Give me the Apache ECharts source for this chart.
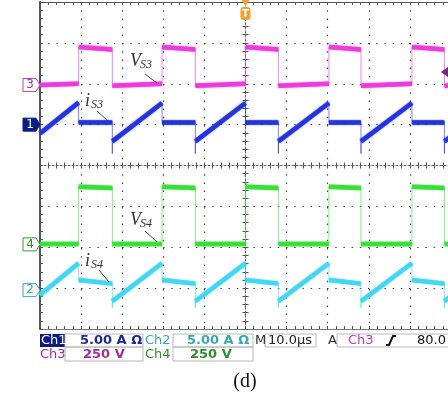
<!DOCTYPE html>
<html>
<head>
    <meta http-equiv="Content-Type" content="text/html; charset=utf-8">
    <title>VS3 iS3 VS4 iS4</title>
    <style>
        html, body { margin: 0; padding: 0; background: #fff; }
        #main { width: 448px; height: 401px; }
    </style>
</head>
<body>
    <div id="main"></div>
    <script src="https://cdn.jsdelivr.net/npm/echarts@6/dist/echarts.min.js"></script>
    <script>
        // time in µs (trigger at 0), level in screen divisions (+-4 div)
        var vs3 = [[-50, 1.97], [-40.6, 2.0], [-40.6, 2.9], [-32.4, 2.84], [-32.4, 1.95], [-20.3, 2.0], [-20.3, 2.9], [-12.2, 2.84], [-12.2, 1.95],
            [0, 2.0], [0, 2.9], [8.0, 2.84], [8.0, 1.95], [20.3, 2.0], [20.3, 2.9], [28.1, 2.84], [28.1, 1.95], [40.5, 2.0], [40.5, 2.9], [48.4, 2.84], [48.4, 1.95], [50, 1.96]];
        var is3 = [[-50, 0.78], [-40.6, 1.54], [-40.6, 1.05], [-32.4, 1.05], [-32.4, 0.29], [-32.4, 0.59], [-20.3, 1.53], [-20.3, 1.05], [-12.2, 1.05], [-12.2, 0.29], [-12.2, 0.59],
            [0, 1.53], [0, 1.05], [8.0, 1.05], [8.0, 0.29], [8.0, 0.59], [20.3, 1.53], [20.3, 1.05], [28.1, 1.05], [28.1, 0.29], [28.1, 0.59], [40.5, 1.53], [40.5, 1.05], [48.4, 1.05], [48.4, 0.29], [48.4, 0.59], [50, 0.71]];
        var vs4 = [[-50, -1.92], [-40.6, -1.92], [-40.6, -0.52], [-32.4, -0.55], [-32.4, -1.92], [-20.3, -1.92], [-20.3, -0.52], [-12.2, -0.55], [-12.2, -1.92],
            [0, -1.92], [0, -0.52], [8.0, -0.55], [8.0, -1.92], [20.3, -1.92], [20.3, -0.52], [28.1, -0.55], [28.1, -1.92], [40.5, -1.92], [40.5, -0.52], [48.4, -0.55], [48.4, -1.92], [50, -1.92]];
        var is4 = [[-50, -3.17], [-40.6, -2.39], [-40.6, -2.80], [-32.4, -2.89], [-32.4, -3.48], [-32.4, -3.32], [-20.3, -2.39], [-20.3, -2.80], [-12.2, -2.89], [-12.2, -3.48], [-12.2, -3.32],
            [0, -2.39], [0, -2.80], [8.0, -2.89], [8.0, -3.48], [8.0, -3.32], [20.3, -2.39], [20.3, -2.80], [28.1, -2.89], [28.1, -3.48], [28.1, -3.32], [40.5, -2.39], [40.5, -2.80], [48.4, -2.89], [48.4, -3.48], [48.4, -3.32], [50, -3.19]];

        // channel ground markers (div) and trigger level (div)
        var chNames = ['1', '2', '3', '4'];
        var chOffsets = [1.0, -3.05, 1.97, -1.93];
        var trigLevel = 2.29;

        // readout texts
        var chScale = ['5.00 A \u03a9', '5.00 A \u03a9', '250 V', '250 V'];
        var timeBase = '10.0\u00b5s';
        var trigSource = 'Ch3';
        var trigValue = '80.0 V';
        var caption = '(d)';

        // thick band only on flat/ramp parts, vertical edges stay thin
        function thickPart(pts) {
            var out = [pts[0]];
            for (var i = 1; i < pts.length; i++) {
                if (pts[i][0] === pts[i - 1][0]) {
                    out.push([pts[i][0], null]);
                }
                out.push(pts[i]);
            }
            return out;
        }

        var traces = [
            { pts: vs4, color: '#36e036' },
            { pts: is4, color: '#40d6f2' },
            { pts: vs3, color: '#ee38dc' },
            { pts: is3, color: '#2233dd' }
        ];
        var series = [];
        for (var t = 0; t < traces.length; t++) {
            series.push({
                type: 'line', data: traces[t].pts, symbol: 'none', z: 2,
                lineStyle: { width: 1, color: traces[t].color, opacity: 0.6 }
            });
            series.push({
                type: 'line', data: thickPart(traces[t].pts), symbol: 'none', connectNulls: false, z: 3,
                lineStyle: { width: 4.5, color: traces[t].color, opacity: 0.92, shadowBlur: 1.5, shadowColor: traces[t].color }
            });
        }

        var dotted = [1.5, 6.7];
        var tick = { show: true, inside: true, length: 3, lineStyle: { color: '#555' } };
        var minor = { show: true, splitNumber: 5, length: 3, lineStyle: { color: '#555' } };

        var chart = echarts.init(document.getElementById('main'));
        chart.setOption({
            animation: false,
            backgroundColor: '#fff',
            grid: { left: 40, top: 2, width: 411, height: 327, containLabel: false, outerBoundsMode: 'none' },
            xAxis: [
                {
                    type: 'value', min: -50, max: 50, interval: 10, position: 'bottom',
                    axisLine: { onZero: false, lineStyle: { color: '#777' } }, axisTick: tick, minorTick: minor,
                    axisLabel: { show: false }, splitLine: { show: true, lineStyle: { color: '#444', width: 1.2, type: dotted } }
                },
                {
                    type: 'value', min: -50, max: 50, interval: 10, position: 'top',
                    axisLine: { onZero: false, lineStyle: { color: '#555' } }, axisTick: tick, minorTick: minor,
                    axisLabel: { show: false }, splitLine: { show: false }
                },
                {
                    type: 'value', min: -50, max: 50, interval: 10, position: 'bottom',
                    axisLine: { onZero: true, onZeroAxisIndex: 0, lineStyle: { color: '#666', type: [2, 2] } }, axisTick: tick, minorTick: minor,
                    axisLabel: { show: false }, splitLine: { show: false }
                },
                {
                    type: 'value', min: -50, max: 50, interval: 10, position: 'top',
                    axisLine: { show: false, onZero: true, onZeroAxisIndex: 0 }, axisTick: tick, minorTick: minor,
                    axisLabel: { show: false }, splitLine: { show: false }
                }
            ],
            yAxis: [
                {
                    type: 'value', min: -4, max: 4, interval: 1, position: 'left',
                    axisLine: { onZero: false, lineStyle: { color: '#555', width: 2 } }, axisTick: tick, minorTick: minor,
                    axisLabel: { show: false }, splitLine: { show: true, lineStyle: { color: '#444', width: 1.2, type: dotted } }
                },
                {
                    type: 'value', min: -4, max: 4, interval: 1, position: 'left',
                    axisLine: { onZero: true, onZeroAxisIndex: 0, lineStyle: { color: '#666', type: [2, 2] } }, axisTick: tick, minorTick: minor,
                    axisLabel: { show: false }, splitLine: { show: false }
                },
                {
                    type: 'value', min: -4, max: 4, interval: 1, position: 'right',
                    axisLine: { show: false, onZero: true, onZeroAxisIndex: 0 }, axisTick: tick, minorTick: minor,
                    axisLabel: { show: false }, splitLine: { show: false }
                }
            ],
            series: series
        });

        // overlay: markers, annotations, readout
        var g = [];
        var markStyle = [
            { fill: '#0c1c80', stroke: '#0c1c80', text: '#fff' },
            { fill: '#fff', stroke: '#3aa6b6', text: '#3aa6b6' },
            { fill: '#fff', stroke: '#c040c0', text: '#a42aa4' },
            { fill: '#fff', stroke: '#3a9a3a', text: '#2e8e2e' }
        ];
        for (var c = 0; c < chNames.length; c++) {
            var py = chart.convertToPixel({ yAxisIndex: 0 }, chOffsets[c]);
            var x0 = 23;
            g.push({
                type: 'polygon', shape: { points: [[x0, py - 6.5], [x0 + 13, py - 6.5], [x0 + 17, py], [x0 + 13, py + 6.5], [x0, py + 6.5]] },
                style: { fill: markStyle[c].fill, stroke: markStyle[c].stroke, lineWidth: 1 }, z: 10
            });
            g.push({
                type: 'text', x: x0 + 7, y: py, z: 11,
                style: { text: chNames[c], fill: markStyle[c].text, font: '12px "DejaVu Sans"', align: 'center', verticalAlign: 'middle' }
            });
        }

        // trigger position marker
        var tx = chart.convertToPixel({ xAxisIndex: 0 }, 0);
        g.push({ type: 'polygon', shape: { points: [[tx - 4, 0], [tx + 4, 0], [tx, 6]] }, style: { fill: '#f0a030' }, z: 10 });
        g.push({ type: 'rect', shape: { x: tx - 5, y: 7, width: 10, height: 13, r: 3 }, style: { fill: '#f0a030' }, z: 10 });
        g.push({ type: 'text', x: tx, y: 14, z: 11, style: { text: 'T', fill: '#fff', font: 'bold 10px "DejaVu Sans"', align: 'center', verticalAlign: 'middle' } });

        // trigger level marker
        var ty = chart.convertToPixel({ yAxisIndex: 0 }, trigLevel);
        g.push({ type: 'polygon', shape: { points: [[441, ty], [448, ty - 5], [448, ty + 5]] }, style: { fill: '#802080' }, z: 10 });

        // annotations
        function label(x, y, main, sub) {
            g.push({ type: 'text', x: x, y: y, z: 12, style: { text: main, fill: '#333', font: 'italic 18px "Liberation Serif"', verticalAlign: 'top' } });
            g.push({ type: 'text', x: x + (main === 'V' ? 10 : 6), y: y + 7, z: 12, style: { text: sub, fill: '#333', font: 'italic 12px "Liberation Serif"', verticalAlign: 'top' } });
        }
        function leader(x1, y1, x2, y2) {
            g.push({ type: 'line', shape: { x1: x1, y1: y1, x2: x2, y2: y2 }, style: { stroke: '#444', lineWidth: 1 }, z: 12 });
        }
        label(130, 52, 'V', 'S3'); leader(145, 74, 157, 83);
        label(85, 92, 'i', 'S3'); leader(97, 111, 108, 121);
        label(130, 211, 'V', 'S4'); leader(145, 231, 157, 242);
        label(85, 252, 'i', 'S4'); leader(99, 270, 109, 282);

        // readout
        function box(x, y, w, h) {
            g.push({ type: 'rect', shape: { x: x, y: y, width: w, height: h }, style: { fill: 'none', stroke: '#b8b8b8', lineWidth: 1 }, z: 5 });
        }
        function txt(x, y, s, color, font, align) {
            g.push({ type: 'text', x: x, y: y, z: 6, style: { text: s, fill: color, font: font, align: align || 'left', verticalAlign: 'middle' } });
        }
        var r1 = 340.5, r2 = 354.5;
        g.push({ type: 'rect', shape: { x: 40, y: 334, width: 25, height: 13 }, style: { fill: '#0c1c80' }, z: 5 });
        txt(41, r1, 'Ch1', '#fff', '13px "DejaVu Sans"');
        box(65, 334, 78, 13); txt(80, r1, chScale[0], '#1c2c8c', 'bold 13px "DejaVu Sans"');
        txt(145, r1, 'Ch2', '#3aa6b6', '13px "DejaVu Sans"');
        box(173, 334, 80, 13); txt(187, r1, chScale[1], '#3aa6b6', 'bold 13px "DejaVu Sans"');
        txt(255, r1, 'M', '#333', '13px "DejaVu Sans"');
        box(265, 334, 51, 13); txt(268, r1, timeBase, '#222', '13px "DejaVu Sans"');
        txt(328, r1, 'A', '#333', '13px "DejaVu Sans"');
        box(337, 334, 130, 13);
        txt(348, r1, trigSource, '#b040c0', '13px "DejaVu Sans"');
        g.push({ type: 'polyline', shape: { points: [[386, 345], [389, 345], [393, 336], [396, 336]] }, style: { stroke: '#111', lineWidth: 2, fill: 'none' }, z: 6 });
        txt(417, r1, trigValue, '#111', '13px "DejaVu Sans"');
        txt(40, r2, 'Ch3', '#a42aa4', '13px "DejaVu Sans"');
        box(65, 347, 78, 14); txt(83, r2, chScale[2], '#a42aa4', 'bold 13px "DejaVu Sans"');
        txt(145, r2, 'Ch4', '#2e8e2e', '13px "DejaVu Sans"');
        box(173, 347, 80, 14); txt(190, r2, chScale[3], '#2e8e2e', 'bold 13px "DejaVu Sans"');

        txt(245, 382, caption, '#111', '20px "Liberation Serif"', 'center');

        chart.setOption({ graphic: g });
    </script>
</body>
</html>
